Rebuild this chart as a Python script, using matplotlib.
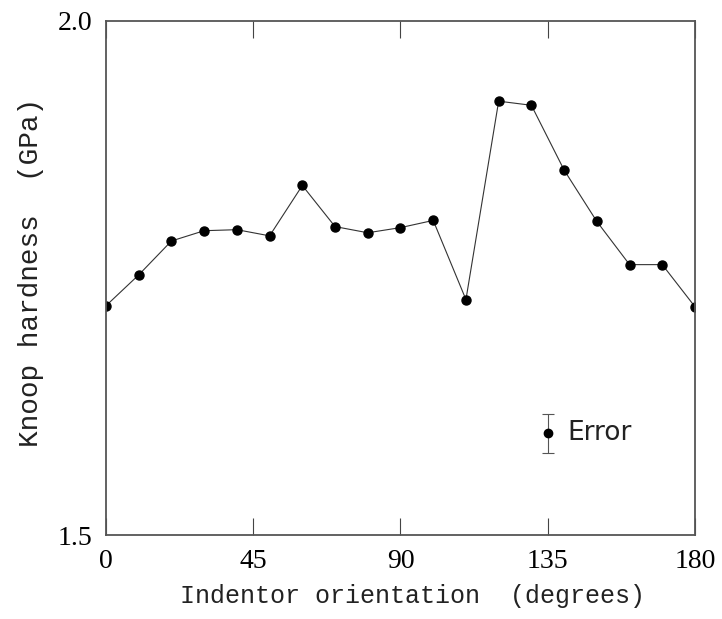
import matplotlib
matplotlib.use("Agg")
import matplotlib.pyplot as plt

# Knoop hardness vs indentor orientation
angle = [0, 10, 20, 30, 40, 50, 60, 70, 80, 90, 100, 110, 120, 130, 140, 150, 160, 170, 180]
hardness = [1.723, 1.753, 1.786, 1.796, 1.797, 1.791, 1.840, 1.800, 1.794, 1.799,
            1.806, 1.729, 1.922, 1.918, 1.855, 1.805, 1.763, 1.763, 1.722]

# error sample shown in the plot
err_x = [135]
err_y = [1.599]
err_size = [0.019]

xticks = [0, 45, 90, 135, 180]
yticks = [1.5, 2.0]

fig = plt.figure(figsize=(7.22, 6.19), dpi=100)
ax = fig.add_axes([0.1468, 0.1357, 0.8158, 0.8304])

ax.plot(angle, hardness, color="#333333", lw=0.8, marker="o", ms=6.5,
        mfc="black", mec="black")

ax.errorbar(err_x, err_y, yerr=err_size, fmt="o", color="black", ms=6,
            ecolor="#555555", elinewidth=0.8, capsize=4, capthick=0.8)
ax.text(141, err_y[0], "Error", fontsize=19, family="DejaVu Sans",
        va="center", ha="left", color="#222222")

ax.set_xlim(0, 180)
ax.set_ylim(1.5, 2.0)

ax.set_xticks(xticks)
ax.set_xticklabels([str(t) for t in xticks], family="Liberation Serif", fontsize=20)
ax.set_yticks(yticks)
ax.set_yticklabels(["1.5", "2.0"], family="Liberation Serif", fontsize=20)

ax.tick_params(axis="x", direction="in", length=12, width=0.8, pad=10,
               top=True, color="#444444")
ax.tick_params(axis="y", length=0, pad=10)

for s in ax.spines.values():
    s.set_color("#555555")
    s.set_linewidth(1.3)

ax.set_xlabel("Indentor orientation  (degrees)", family="Liberation Mono",
              fontsize=18, color="#222222")
ax.set_ylabel("Knoop hardness  (GPa)", family="Liberation Mono",
              fontsize=20, color="#222222")
ax.xaxis.set_label_coords(0.52, -0.095)
ax.yaxis.set_label_coords(-0.105, 0.51)

fig.savefig("out.png", dpi=100)
